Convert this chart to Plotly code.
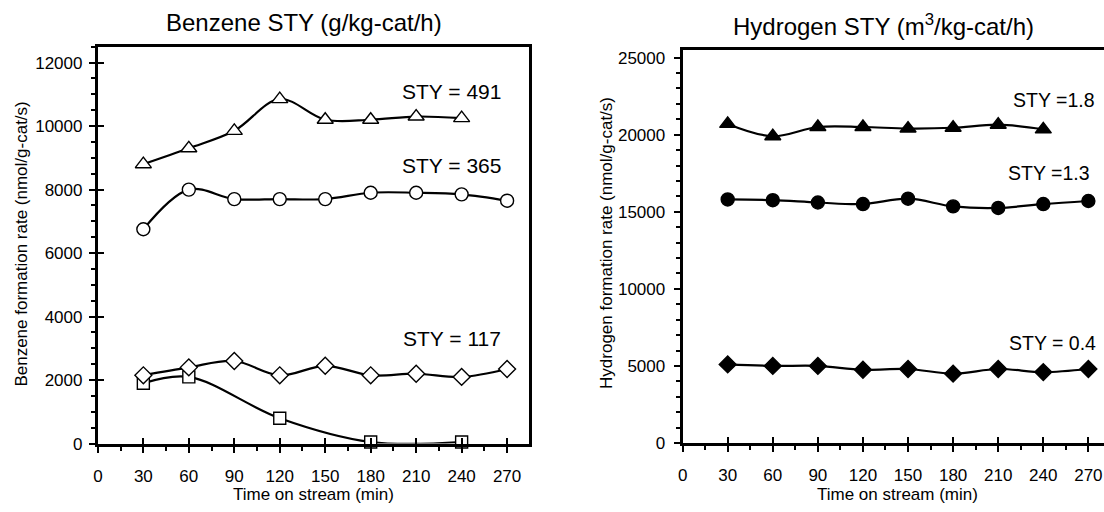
import plotly.graph_objects as go

# ---------------- data ----------------
time_ticks = [0, 30, 60, 90, 120, 150, 180, 210, 240, 270]

# Benzene formation rate (nmol/g-cat/s)
bz_t_tri = [30, 60, 90, 120, 150, 180, 210, 240]
bz_tri = [8800, 9300, 9850, 10850, 10200, 10200, 10300, 10250]

bz_t_circ = [30, 60, 90, 120, 150, 180, 210, 240, 270]
bz_circ = [6750, 8000, 7700, 7700, 7700, 7900, 7900, 7850, 7650]

bz_t_dia = [30, 60, 90, 120, 150, 180, 210, 240, 270]
bz_dia = [2150, 2400, 2600, 2150, 2450, 2150, 2200, 2100, 2350]

bz_t_sq = [30, 60, 120, 180, 240]
bz_sq = [1900, 2100, 800, 50, 50]

# Hydrogen formation rate (nmol/g-cat/s)
h2_t_tri = [30, 60, 90, 120, 150, 180, 210, 240]
h2_tri = [20700, 19900, 20500, 20500, 20400, 20450, 20650, 20350]

h2_t_circ = [30, 60, 90, 120, 150, 180, 210, 240, 270]
h2_circ = [15800, 15750, 15600, 15500, 15850, 15350, 15250, 15500, 15700]

h2_t_dia = [30, 60, 90, 120, 150, 180, 210, 240, 270]
h2_dia = [5100, 5000, 5000, 4750, 4800, 4500, 4800, 4600, 4800]

bz_labels = ["STY = 491", "STY = 365", "STY = 117"]
h2_labels = ["STY =1.8", "STY =1.3", "STY = 0.4"]

# ---------------- figure ----------------
W, H = 1104, 512
FONT = "Liberation Sans, Arial, sans-serif"


def px(x):
    return x / W


def py(y):
    return 1 - y / H


fig = go.Figure()


def add_series(x, y, symbol, filled, size, xa, ya):
    fig.add_trace(go.Scatter(
        x=x, y=y, xaxis=xa, yaxis=ya, mode="lines+markers",
        line=dict(color="black", width=2.2, shape="spline", smoothing=1),
        marker=dict(symbol=symbol, size=size,
                    color="black" if filled else "white",
                    line=dict(color="black", width=1.4)),
        showlegend=False, hoverinfo="skip", cliponaxis=False))


# Left panel (open markers)
add_series(bz_t_sq, bz_sq, "square", False, 12, "x", "y")
add_series(bz_t_dia, bz_dia, "diamond", False, 13, "x", "y")
add_series(bz_t_circ, bz_circ, "circle", False, 13, "x", "y")
add_series(bz_t_tri, bz_tri, "triangle-up", False, 14, "x", "y")

# Right panel (filled markers)
add_series(h2_t_dia, h2_dia, "diamond", True, 13, "x2", "y2")
add_series(h2_t_circ, h2_circ, "circle", True, 13, "x2", "y2")
add_series(h2_t_tri, h2_tri, "triangle-up", True, 14, "x2", "y2")

# helper traces for overlay axes (crossing major ticks)
for xa, ya in [("x3", "y"), ("x4", "y2"), ("x", "y3")]:
    fig.add_trace(go.Scatter(x=[None], y=[None], xaxis=xa, yaxis=ya, mode="lines",
                             showlegend=False, hoverinfo="skip"))

L_X0, L_X1 = 93.3, 526.0
R_X0, R_X1 = 680.7, 1104.0
L_Y0, L_Y1 = 452.3, 46.7
R_Y0, R_Y1 = 451.7, 50.0

left_xrange = [0, 284.2]
right_xrange = [0, 280.4]
left_yrange = [0, 12500]
right_yrange = [0, 25500]

axis_common = dict(showgrid=False, zeroline=False, linecolor="black",
                   linewidth=3, tickcolor="black", tickwidth=1.6,
                   tickfont=dict(family=FONT, size=17, color="black"))

minor_x = dict(ticks="outside", dtick=15, tick0=0, ticklen=4,
               tickcolor="black", tickwidth=1.5)

fig.update_layout(
    width=W, height=H, margin=dict(l=0, r=0, t=0, b=0),
    plot_bgcolor="white", paper_bgcolor="white",
    font=dict(family=FONT, color="black"),
    xaxis=dict(domain=[px(L_X0), px(L_X1)], range=left_xrange, anchor="y",
               tickmode="array", tickvals=time_ticks, ticks="outside", ticklen=6,
               showline=True, mirror=True, ticklabelstandoff=9,
               minor=minor_x, **axis_common),
    yaxis=dict(domain=[py(L_Y0), py(L_Y1)], range=left_yrange, anchor="x",
               dtick=2000, tick0=0, tickformat="d", ticks="outside", ticklen=6,
               showline=True, mirror=True, ticklabelstandoff=3,
               minor=dict(ticks="outside", dtick=500, tick0=0, ticklen=4,
                          tickcolor="black", tickwidth=1.5),
               **axis_common),
    xaxis2=dict(domain=[px(R_X0), px(R_X1)], range=right_xrange, anchor="y2",
                tickmode="array", tickvals=time_ticks, ticks="outside", ticklen=6,
                showline=True, mirror=True, ticklabelstandoff=9,
                minor=minor_x, **axis_common),
    yaxis2=dict(domain=[py(R_Y0), py(R_Y1)], range=right_yrange, anchor="x2",
                dtick=5000, tick0=0, tickformat="d", ticks="outside", ticklen=6,
                showline=True, mirror=False, ticklabelstandoff=5,
                minor=dict(ticks="outside", dtick=1000, tick0=0, ticklen=4,
                           tickcolor="black", tickwidth=1.5),
                **axis_common),
    # overlay axes to make major ticks cross the axis line
    xaxis3=dict(overlaying="x", anchor="y", range=left_xrange, tickmode="array",
                tickvals=time_ticks, ticks="inside", ticklen=6, tickwidth=1.6,
                tickcolor="black", showticklabels=False, showline=False,
                showgrid=False, zeroline=False),
    xaxis4=dict(overlaying="x2", anchor="y2", range=right_xrange, tickmode="array",
                tickvals=time_ticks, ticks="inside", ticklen=6, tickwidth=1.6,
                tickcolor="black", showticklabels=False, showline=False,
                showgrid=False, zeroline=False),
    yaxis3=dict(overlaying="y", anchor="x", range=left_yrange, dtick=2000,
                tick0=0, ticks="inside", ticklen=6, tickwidth=1.6,
                tickcolor="black", showticklabels=False, showline=False,
                showgrid=False, zeroline=False),
)

ann = []
# panel titles
ann.append(dict(text="Benzene STY (g/kg-cat/h)", x=px(300), y=py(22),
                xref="paper", yref="paper", showarrow=False,
                xanchor="center", yanchor="middle",
                font=dict(family=FONT, size=24, color="black")))
ann.append(dict(text="Hydrogen STY (m<sup>3</sup>/kg-cat/h)", x=px(882), y=py(25),
                xref="paper", yref="paper", showarrow=False,
                xanchor="center", yanchor="middle",
                font=dict(family=FONT, size=24, color="black")))
# axis titles
ann.append(dict(text="Time on stream (min)", x=px(310), y=py(504),
                xref="paper", yref="paper", showarrow=False,
                xanchor="center", yanchor="middle",
                font=dict(family=FONT, size=17, color="black")))
ann.append(dict(text="Time on stream (min)", x=px(897), y=py(504),
                xref="paper", yref="paper", showarrow=False,
                xanchor="center", yanchor="middle",
                font=dict(family=FONT, size=17, color="black")))
ann.append(dict(text="Benzene formation rate (nmol/g-cat/s)", x=px(17), y=py(248),
                xref="paper", yref="paper", showarrow=False, textangle=-90,
                xanchor="center", yanchor="middle",
                font=dict(family=FONT, size=17, color="black")))
ann.append(dict(text="Hydrogen formation rate (nmol/g-cat/s)", x=px(604), y=py(247),
                xref="paper", yref="paper", showarrow=False, textangle=-90,
                xanchor="center", yanchor="middle",
                font=dict(family=FONT, size=17, color="black")))

# STY labels (data coords)
for lab, yv in zip(bz_labels, [11080, 8750, 3300]):
    ann.append(dict(text=lab, x=233.5, y=yv, xref="x", yref="y", showarrow=False,
                    xanchor="center", yanchor="middle",
                    font=dict(family=FONT, size=21, color="black")))
for lab, xv, yv in zip(h2_labels, [247.3, 243.8, 246.1], [22240, 17500, 6510]):
    ann.append(dict(text=lab, x=xv, y=yv, xref="x2", yref="y2", showarrow=False,
                    xanchor="center", yanchor="middle",
                    font=dict(family=FONT, size=19.5, color="black")))

fig.update_layout(annotations=ann)
fig.write_html("out.html")
